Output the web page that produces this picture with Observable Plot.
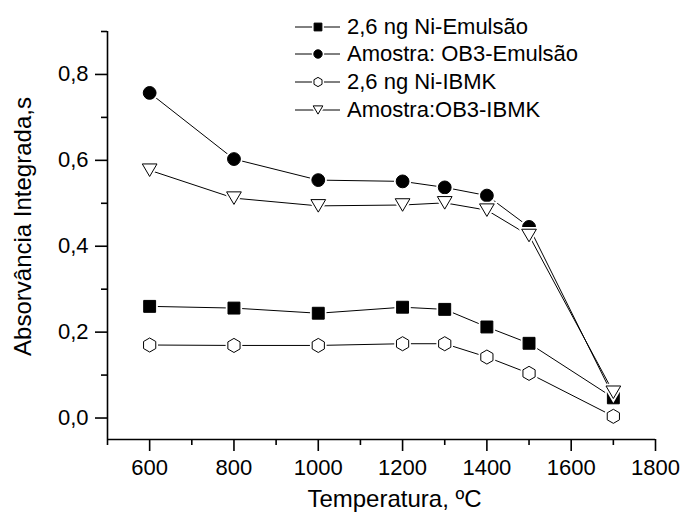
<!DOCTYPE html>
<html>
<head>
<meta charset="utf-8">
<script src="https://cdn.jsdelivr.net/npm/d3@7"></script>
<script src="https://cdn.jsdelivr.net/npm/@observablehq/plot@0.6"></script>
<style>
  html, body { margin: 0; padding: 0; background: white; }
  #wrap { position: relative; width: 682px; height: 515px; font-family: "Liberation Sans", Arial, sans-serif; }
  #legend { position: absolute; left: 293px; top: 13px; font-size: 22px; color: black; }
  .row { display: flex; align-items: center; height: 27.6px; }
  .row svg { display: block; margin-right: 5px; }
</style>
</head>
<body>
<div id="wrap"><div id="legend"></div></div>
<script>
// ---- data ----
const temps = [600, 800, 1000, 1200, 1300, 1400, 1500, 1700];
const niEmulsao = [0.260, 0.256, 0.244, 0.258, 0.253, 0.212, 0.174, 0.047];
const ob3Emulsao = [0.757, 0.603, 0.554, 0.551, 0.537, 0.518, 0.445, 0.050];
const niIBMK = [0.170, 0.169, 0.169, 0.173, 0.173, 0.142, 0.104, 0.004];
const ob3IBMK = [0.577, 0.512, 0.494, 0.496, 0.501, 0.484, 0.425, 0.060];
const seriesNames = ["2,6 ng Ni-Emulsão", "Amostra: OB3-Emulsão", "2,6 ng Ni-IBMK", "Amostra:OB3-IBMK"];
const xMajor = [600, 800, 1000, 1200, 1400, 1600, 1800];
const xMinor = [500, 700, 900, 1100, 1300, 1500, 1700];
const yMajor = [0, 0.2, 0.4, 0.6, 0.8];
const yMinor = [0.1, 0.3, 0.5, 0.7, 0.9];
const xTitle = "Temperatura, ºC";
const yTitle = "Absorvância Integrada,s";

// ---- symbols ----
const symSquare = {draw(ctx, size) { const r = Math.sqrt(size / Math.PI); const h = r * 0.93; ctx.moveTo(-h, -h); ctx.lineTo(h, -h); ctx.lineTo(h, h); ctx.lineTo(-h, h); ctx.closePath(); }};
const symCircle = {draw(ctx, size) { const r = Math.sqrt(size / Math.PI); ctx.moveTo(r, 0); ctx.arc(0, 0, r, 0, 2 * Math.PI); }};
const symHex = {draw(ctx, size) { const r = Math.sqrt(size / Math.PI) * 1.1; const a = r * 0.866; ctx.moveTo(0, -r); ctx.lineTo(a, -r / 2); ctx.lineTo(a, r / 2); ctx.lineTo(0, r); ctx.lineTo(-a, r / 2); ctx.lineTo(-a, -r / 2); ctx.closePath(); }};
const symTriDown = {draw(ctx, size) { const r = Math.sqrt(size / Math.PI); const w = r * 1.15, h = r * 0.98; ctx.moveTo(-w, -h); ctx.lineTo(w, -h); ctx.lineTo(0, h); ctx.closePath(); }};

const series = [
  {name: seriesNames[0], values: niEmulsao, symbol: symSquare, fill: "black"},
  {name: seriesNames[1], values: ob3Emulsao, symbol: symCircle, fill: "black"},
  {name: seriesNames[2], values: niIBMK, symbol: symHex, fill: "white"},
  {name: seriesNames[3], values: ob3IBMK, symbol: symTriDown, fill: "white"}
];
const rows = series.flatMap(s => temps.map((t, i) => ({t, v: s.values[i], name: s.name})));
const drawOrder = [1, 0, 3, 2];

const fmt = d => d.toFixed(1).replace(".", ",");
const R = 6.4;

const marks = [
  Plot.line(rows, {x: "t", y: "v", z: "name", stroke: "black", strokeWidth: 1})
];
for (const k of drawOrder) {
  const s = series[k];
  const data = rows.filter(d => d.name === s.name);
  marks.push(Plot.dot(data, {x: "t", y: "v", symbol: s.symbol, r: R, fill: "white", stroke: "white", strokeWidth: 4.5}));
  marks.push(Plot.dot(data, {x: "t", y: "v", symbol: s.symbol, r: R, fill: s.fill, stroke: "black", strokeWidth: 1}));
}
marks.push(
  Plot.axisX(xMinor, {tickSize: 6, tickFormat: () => "", strokeWidth: 1.6, label: null}),
  Plot.axisX(xMajor, {tickSize: 12, tickPadding: 8, tickFormat: d => String(d), fontSize: 22, strokeWidth: 1.6, label: null}),
  Plot.axisY(yMinor, {tickSize: 6, tickFormat: () => "", strokeWidth: 1.6, label: null}),
  Plot.axisY(yMajor, {tickSize: 12, tickPadding: 7, tickFormat: fmt, fontSize: 22, strokeWidth: 1.6, label: null}),
  Plot.ruleX([500], {y1: -0.05, y2: 0.9, stroke: "black", strokeWidth: 1.6}),
  Plot.ruleY([-0.05], {x1: 500, x2: 1800, stroke: "black", strokeWidth: 1.6}),
  Plot.text([xTitle], {text: d => d, frameAnchor: "bottom", textAnchor: "middle", dx: 13, dy: 67, fontSize: 24, lineAnchor: "bottom", fill: "black"}),
  Plot.text([yTitle], {text: d => d, frameAnchor: "left", textAnchor: "middle", rotate: -90, dx: -84, dy: -9, fontSize: 24, lineAnchor: "middle", fill: "black"})
);

const chart = Plot.plot({
  width: 682,
  height: 515,
  marginLeft: 107,
  marginRight: 27,
  marginTop: 31,
  marginBottom: 76,
  style: {fontFamily: "Liberation Sans, Arial, sans-serif", color: "black", background: "white", overflow: "visible"},
  x: {domain: [500, 1800], label: null},
  y: {domain: [-0.05, 0.9], label: null},
  marks
});
const wrap = document.getElementById("wrap");
wrap.insertBefore(chart, wrap.firstChild);

// ---- legend ----
const legend = d3.select("#legend");
series.forEach(s => {
  const row = legend.append("div").attr("class", "row");
  const svg = row.append("svg").attr("width", 49).attr("height", 20);
  svg.append("line").attr("x1", 2).attr("x2", 47).attr("y1", 10).attr("y2", 10).attr("stroke", "black").attr("stroke-width", 1);
  const p = d3.symbol(s.symbol, Math.PI * 4.2 * 4.2)();
  svg.append("path").attr("d", p).attr("transform", "translate(25,10)").attr("fill", "white").attr("stroke", "white").attr("stroke-width", 4);
  svg.append("path").attr("d", p).attr("transform", "translate(25,10)").attr("fill", s.fill).attr("stroke", "black").attr("stroke-width", 1);
  row.append("span").text(s.name);
});
</script>
</body>
</html>
